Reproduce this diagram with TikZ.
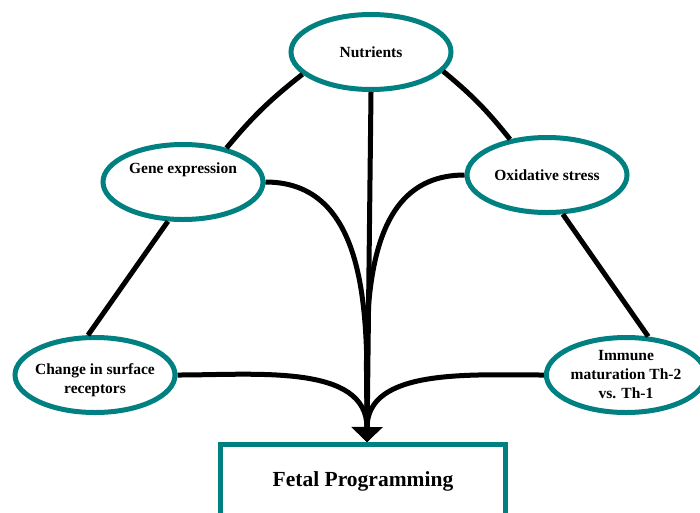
\documentclass[tikz,border=0pt]{standalone}
\usepackage{fontspec}
\setmainfont{Liberation Serif}
\usetikzlibrary{shapes.geometric, arrows.meta}
\definecolor{tealring}{RGB}{0,128,128}

\begin{document}
\begin{tikzpicture}[x=1pt, y=1pt,
    factor/.style={draw=tealring, line width=5pt, ellipse, minimum width=160pt, minimum height=75pt, inner sep=1pt, align=center, font=\fontsize{15.5}{19}\selectfont\bfseries},
    outcome/.style={draw=tealring, line width=5pt, rectangle, minimum width=285pt, minimum height=73pt, font=\fontsize{21.5}{25}\selectfont\bfseries},
    link/.style={line width=5pt},
    feed/.style={line width=5pt, -{Triangle[length=15pt, width=30pt]}}]
    \useasboundingbox (0,0) rectangle (700,-512);

    % Factors
    \node[factor] (nutrients) at (371,-52) {Nutrients};
    \node[factor, text depth=27pt] (gene_expression) at (183,-182) {Gene expression};
    \node[factor] (oxidative_stress) at (547,-175) {Oxidative stress};
    \node[factor, inner xsep=-5pt, text height=40pt, text depth=3pt] (surface_receptors) at (95,-375) {Change in surface\\receptors};
    \node[factor, minimum width=152pt] (immune_maturation) at (626,-375) {Immune\\maturation Th-2\\vs. Th-1};

    % Fetal Programming
    \node[outcome] (fetal_programming) at (363,-481) {Fetal Programming};
    \coordinate (tip) at ([xshift=4pt]fetal_programming.north);

    % Links between factors
    \draw[link] (nutrients.198) to[bend right=6] (gene_expression.38);
    \draw[link] (nutrients.345) to[bend left=6] (oxidative_stress.136);
    \draw[link] (gene_expression.249) -- (surface_receptors.100);
    \draw[link] (oxidative_stress.292) -- (immune_maturation.60);

    % Arrows
    \draw[feed] (nutrients.south) -- (tip);
    \draw[feed] (gene_expression.east) to[out=0, in=90] (tip);
    \draw[feed] (oxidative_stress.west) to[out=180, in=90] (tip);
    \draw[feed] (surface_receptors.east) to[out=0, in=90] (tip);
    \draw[feed] (immune_maturation.west) to[out=180, in=90] (tip);
\end{tikzpicture}
\end{document}
